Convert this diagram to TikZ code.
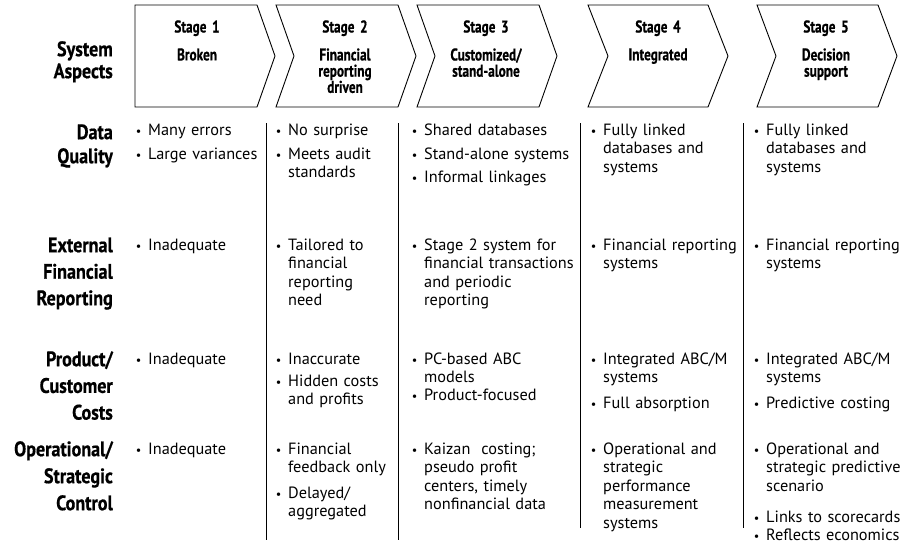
\documentclass[tikz,border=0pt]{standalone}
\usepackage{graphicx}
\usepackage{fontspec}
\setmainfont{PT Sans}
\newfontfamily\condfont[FakeStretch=0.86, FakeBold=0.6]{PT Sans}
\newfontfamily\headfont[FakeStretch=0.78, FakeBold=0.6]{PT Sans}
\DeclareRobustCommand\tightlines{\lineskiplimit=-20pt\relax}
\tikzset{
  chev/.style={draw=black, line width=0.9pt, line join=miter, fill=white},
  divider/.style={draw=black, line width=0.9pt},
  head/.style={anchor=north, inner sep=0pt, text width=110pt, align=center,
    font=\headfont\bfseries\fontsize{17}{16.2}\selectfont\tightlines},
  lab/.style={anchor=north east, inner sep=0pt, text width=130pt, align=right},
  bul/.style={anchor=north west, inner sep=0pt, text width=200pt,
    font=\fontsize{16.3}{18.5}\selectfont\tightlines, yshift=12.95pt},
}
% bullet item: name, x of bullet, baseline y, text
\newcommand\bitem[4]{\node[bul, name=#1] at (#2,#3) {\noindent\hangindent=11pt\hangafter=1\strut\makebox[11pt][l]{\makebox[3pt]{\scalebox{0.75}{\textbullet}}}#4\par};}
% row label: name, baseline y, baselineskip, text
\newcommand\lbl[4]{\node[lab, name=#1, yshift={0.7*#3pt},
  font={\condfont\bfseries\fontsize{21}{#3}\selectfont\tightlines}] at (113,#2) {\strut #4};}
% header text: name, x centre, text
\newcommand\hdstage[3]{\node[head, name=#1, yshift=11.34pt] at (#2,31.5) {\strut Stage #3};}
\newcommand\hdtitle[3]{\node[head, name=#1, yshift=11.34pt] at (#2,59.5) {\strut #3};}
\begin{document}
\lineskiplimit=-20pt
\begin{tikzpicture}[x=1pt, y=-1pt]
\useasboundingbox (0,0) rectangle (908,547);
% chevrons
\draw[chev] (135,5) -- (257,5) -- (275,56) -- (257,107) -- (135,107) -- cycle;
\foreach \L/\d in {276/18, 417/18, 588/20, 757/19}{
  \draw[chev] (\L,5) -- ({\L+140-\d},5) -- ({\L+140},56) -- ({\L+140-\d},107) -- (\L,107) -- ({\L+\d},56) -- cycle;
}
\hdstage{s1}{197}{1} \hdtitle{t1}{197}{Broken}
\hdstage{s2}{345}{2} \hdtitle{t2}{345}{Financial\\reporting\\driven}
\hdstage{s3}{486}{3} \hdtitle{t3}{486}{Customized/\\stand-alone}
\hdstage{s4}{658}{4} \hdtitle{t4}{658}{Integrated}
\hdstage{s5}{826}{5} \hdtitle{t5}{826}{Decision\\support}
% row labels
\lbl{l0}{56}{22}{System\\Aspects}
\lbl{l1}{139}{24}{Data\\Quality}
\lbl{l2}{252}{26.5}{External\\Financial\\Reporting}
\lbl{l3}{366}{26.7}{Product/\\Customer\\Costs}
\lbl{l4}{456}{27}{Operational/\\Strategic\\Control}
% dividers
\coordinate (d1t) at (266,123); \coordinate (d1b) at (266,540);
\coordinate (d2t) at (398,123); \coordinate (d2b) at (398,540);
\coordinate (d3t) at (580,123); \coordinate (d3b) at (580,528);
\coordinate (d4t) at (743,123); \coordinate (d4b) at (743,528);
\draw[divider] (d1t) -- (d1b);
\draw[divider] (d2t) -- (d2b);
\draw[divider] (d3t) -- (d3b);
\draw[divider] (d4t) -- (d4b);
% row 1: data quality
\bitem{a11}{137}{135}{Many errors}
\bitem{a12}{137}{159}{Large variances}
\bitem{b11}{277}{135}{No surprise}
\bitem{b12}{277}{159}{Meets audit\newline standards}
\bitem{c11}{413}{135}{Shared databases}
\bitem{c12}{413}{159}{Stand-alone systems}
\bitem{c13}{413}{182}{Informal linkages}
\bitem{d11}{592}{135}{Fully linked\newline databases and\newline systems}
\bitem{e11}{755}{135}{Fully linked\newline databases and\newline systems}
% row 2: external financial reporting
\bitem{a21}{137}{250}{Inadequate}
\bitem{b21}{277}{250}{Tailored to\newline financial\newline reporting\newline need}
\bitem{c21}{413}{250}{Stage 2 system for\newline financial transactions\newline and periodic\newline reporting}
\bitem{d21}{592}{250}{Financial reporting\newline systems}
\bitem{e21}{755}{250}{Financial reporting\newline systems}
% row 3: product/customer costs
\bitem{a31}{137}{364}{Inadequate}
\bitem{b31}{277}{364}{Inaccurate}
\bitem{b32}{277}{386}{Hidden costs\newline and profits}
\bitem{c31}{413}{364}{PC-based ABC\newline models}
\bitem{c32}{413}{400}{Product-focused}
\bitem{d31}{592}{364}{Integrated ABC/M\newline systems}
\bitem{d32}{592}{408}{Full absorption}
\bitem{e31}{755}{364}{Integrated ABC/M\newline systems}
\bitem{e32}{755}{408}{Predictive costing}
% row 4: operational/strategic control
\bitem{a41}{137}{454}{Inadequate}
\bitem{b41}{277}{454}{Financial\newline feedback only}
\bitem{b42}{277}{498}{Delayed/\newline aggregated}
\bitem{c41}{413}{454}{Kaizan\ \ costing;\newline pseudo profit\newline centers, timely\newline nonfinancial data}
\bitem{d41}{592}{454}{Operational and\newline strategic\newline performance\newline measurement\newline systems}
\bitem{e41}{755}{454}{Operational and\newline strategic predictive\newline scenario}
\bitem{e42}{755}{522}{Links to scorecards}
\bitem{e43}{755}{540}{Reflects economics}
\end{tikzpicture}
\end{document}
